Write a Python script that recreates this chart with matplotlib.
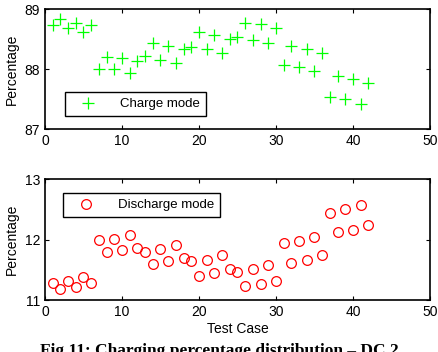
import numpy as np
import matplotlib.pyplot as plt

plt.rcParams['font.family'] = ['Liberation Sans', 'DejaVu Sans']

# test case index
test_case = np.arange(1, 43)

# charge mode percentage
charge = [88.73, 88.83, 88.68, 88.77, 88.62, 88.73, 88.00, 88.20, 88.00, 88.18,
          87.94, 88.14, 88.22, 88.43, 88.15, 88.38, 88.10, 88.33, 88.37, 88.62,
          88.34, 88.57, 88.27, 88.50, 88.54, 88.77, 88.48, 88.75, 88.44, 88.69,
          88.07, 88.38, 88.03, 88.33, 87.97, 88.27, 87.54, 87.88, 87.50, 87.84,
          87.42, 87.77]

# discharge mode percentage
discharge = [11.29, 11.19, 11.32, 11.22, 11.38, 11.29, 11.99, 11.80, 12.01, 11.83,
             12.08, 11.87, 11.80, 11.60, 11.85, 11.64, 11.91, 11.69, 11.64, 11.39,
             11.66, 11.45, 11.75, 11.51, 11.47, 11.23, 11.52, 11.27, 11.58, 11.32,
             11.95, 11.62, 11.98, 11.67, 12.05, 11.75, 12.45, 12.13, 12.51, 12.16,
             12.58, 12.24]

fig = plt.figure(figsize=(4.39, 3.52), dpi=100)
ax1 = fig.add_axes([0.1025, 0.6335, 0.877, 0.3405])
ax2 = fig.add_axes([0.1025, 0.1477, 0.877, 0.3429])

ax1.plot(test_case, charge, '+', color='#00ff00', markersize=8.5, mew=0.9,
         label='Charge mode')
ax1.set_ylim(87, 89)
ax1.set_yticks([87, 88, 89])
ax1.set_ylabel('Percentage')
ax1.legend(loc='lower left', bbox_to_anchor=(0.035, 0.05), fancybox=False,
           edgecolor='black', framealpha=1, handlelength=2.5, borderpad=0.45,
           handletextpad=1.2, fontsize=9.5)

ax2.plot(test_case, discharge, 'o', mfc='none', mec='#ff0000', markersize=7,
         mew=0.9, label='Discharge mode')
ax2.set_ylim(11, 13)
ax2.set_yticks([11, 12, 13])
ax2.set_ylabel('Percentage')
ax2.set_xlabel('Test Case', labelpad=2)
ax2.legend(loc='upper left', bbox_to_anchor=(0.03, 0.94), fancybox=False,
           edgecolor='black', framealpha=1, handlelength=2.5, borderpad=0.45,
           handletextpad=1.2, fontsize=9.5)

for ax in (ax1, ax2):
    ax.set_xlim(0, 50)
    ax.set_xticks([0, 10, 20, 30, 40, 50])
    ax.tick_params(direction='in', top=True, right=True, labelsize=10, length=3)
    for s in ax.spines.values():
        s.set_linewidth(1.2)

fig.text(0.5, 0.026, 'Fig.11: Charging percentage distribution \u2013 DC 2',
         ha='center', va='top', fontsize=12.5, fontweight='bold',
         family='Liberation Serif')

fig.savefig('out.png', dpi=100)
